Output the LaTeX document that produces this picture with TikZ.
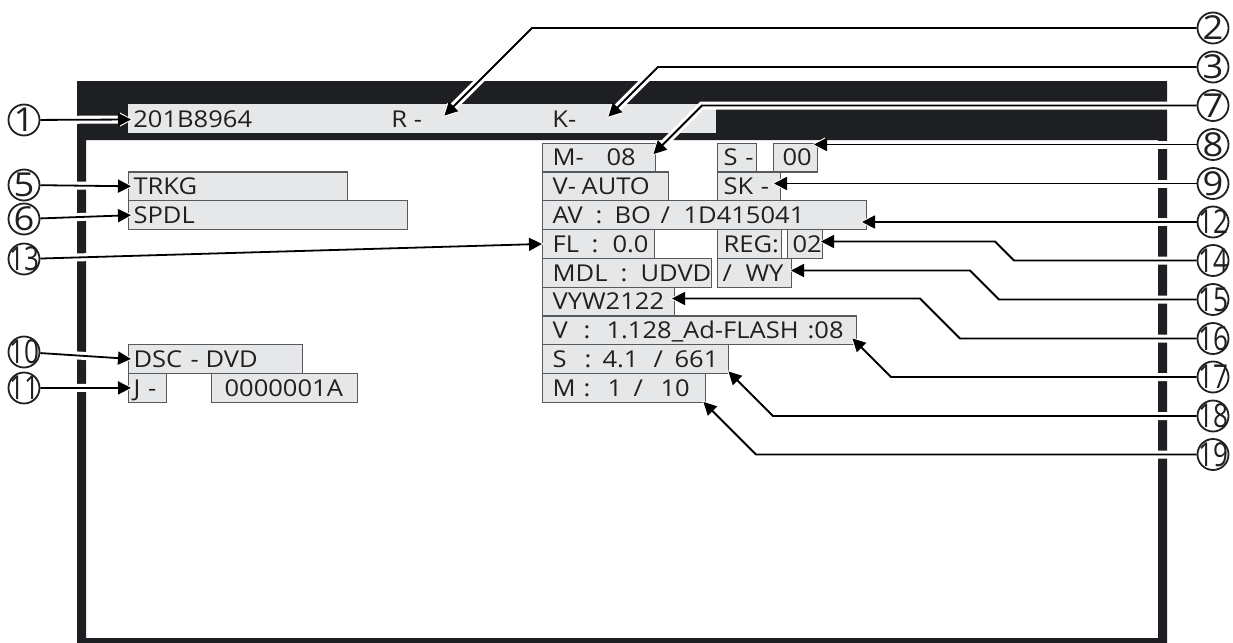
\documentclass[tikz,border=0pt]{standalone}
\usepackage{fontspec}
\setmainfont[FakeStretch=1.1]{Open Sans}
\usepackage{graphicx}
\usepackage{xcolor}
\definecolor{cFrame}{HTML}{1E1F22}
\definecolor{cFill}{HTML}{E6E7E8}
\definecolor{cEdge}{HTML}{58595B}
\definecolor{cInk}{HTML}{231F20}
\usetikzlibrary{arrows.meta,calc}
\pgfdeclarelayer{back}
\pgfdeclarelayer{front}
\pgfsetlayers{back,main,front}
\newlength{\pxu}\setlength{\pxu}{0.5pt}
\newcommand{\tabpx}[2]{\makebox[#1\pxu][l]{#2}}
\newcommand{\calloutnum}[1]{\ifnum#1>9 \scalebox{0.72}[1]{#1}\else#1\fi}
\tikzset{
  field-box/.style={draw=cEdge,line width=0.6pt,fill=cFill,anchor=north west,
    minimum height=14.4pt,inner xsep=2.5pt,inner ysep=0pt,align=left,
    text height=8.3pt,text depth=0pt},
  head-bar/.style={fill=cFill,anchor=north west,inner sep=0pt},
  head-text/.style={anchor=west,inner sep=0pt,text height=8.3pt,text depth=0pt},
  callout/.style={circle,draw=cInk,line width=0.9pt,fill=white,minimum size=15.5pt,
    inner sep=0pt,font=\fontsize{16.5}{17}\selectfont},
  leader/.style={draw=black,line width=0.9pt,-{Triangle[length=6.5pt,width=6.5pt]},
    shorten >=1pt,
    preaction={draw=white,line width=4pt,-{Triangle[length=6.5pt,width=6.5pt]},
      shorten >=0pt}},
}
\begin{document}
\begin{tikzpicture}[x=0.5pt,y=-0.5pt,font=\fontsize{11.6}{13}\selectfont,text=cInk]
  \useasboundingbox (0,0) rectangle (1233,643);
  \begin{pgfonlayer}{back}
    % screen frame and header
    \fill[cFrame,even odd rule] (77,81) rectangle (1167,643) (86,140) rectangle (1158,638);
    \node[head-bar,minimum width=294pt,minimum height=14.5pt] (hdr) at (128,104) {};
    \node[head-text] (hID) at (133,119.5) {201B8964};
    \node[head-text] (hR)  at (391,119.5) {R -};
    \node[head-text] (hK)  at (552,119.5) {K-};
    % left column
    \node[field-box,text width=104.5pt] (fTRKG) at (128,171.3) {TRKG};
    \node[field-box,text width=134.5pt] (fSPDL) at (128,200.1) {SPDL};
    \node[field-box,text width=82pt]    (fDSC)  at (128,344.1) {\tabpx{57}{DSC}\tabpx{15}{-}DVD};
    \node[field-box,text width=14pt]    (fJ)    at (128,372.9) {\mbox{J -}};
    \node[field-box,text width=68pt]    (fJid)  at (211,372.9) {\hspace*{8\pxu}0000001A};
    % middle column
    \node[field-box,text width=51.5pt] (fM)   at (542,142.5) {\hspace*{5\pxu}\tabpx{54}{M-}08};
    \node[field-box,text width=14.5pt] (fSd)  at (717,142.5) {\hspace*{1\pxu}\mbox{S -}};
    \node[field-box,text width=17pt]   (f00)  at (773,142.5) {\hspace*{4\pxu}00};
    \node[field-box,text width=58pt]   (fV)   at (542,171.3) {\hspace*{5\pxu}\tabpx{29}{V-}AUTO};
    \node[field-box,text width=26.5pt] (fSK)  at (717,171.3) {\hspace*{1\pxu}\mbox{SK -}};
    \node[field-box,text width=157pt]  (fAV)  at (542,200.1)
      {\hspace*{5\pxu}\tabpx{43}{AV}\tabpx{19}{:}\tabpx{46}{BO}\tabpx{23}{/}1D415041};
    \node[field-box,text width=51pt]   (fFL)  at (542,228.9) {\hspace*{5\pxu}\tabpx{39}{FL}\tabpx{21}{:}0.0};
    \node[field-box,text width=27pt]   (fREG) at (717,228.9) {\hspace*{1\pxu}REG:};
    \node[field-box,text width=12.5pt] (f02)  at (787,228.9) {02};
    \node[field-box,text width=79.5pt] (fMDL) at (542,257.7) {\hspace*{5\pxu}\tabpx{68}{MDL}\tabpx{20}{:}UDVD};
    \node[field-box,text width=32pt]   (fWY)  at (717,257.7) {\tabpx{23}{/}WY};
    \node[field-box,text width=61pt]   (fVYW) at (542,286.5) {\hspace*{5\pxu}VYW2122};
    \node[field-box,text width=152pt]  (fVer) at (542,315.3)
      {\hspace*{5\pxu}\tabpx{31}{V}\tabpx{23}{:}\tabpx{201}{1.128\_Ad-FLASH}:08};
    \node[field-box,text width=88pt]   (fSv)  at (542,344.1)
      {\hspace*{5\pxu}\tabpx{32}{S}\tabpx{18}{:}\tabpx{51}{4.1}\tabpx{21}{/}661};
    \node[field-box,text width=76.5pt] (fMv)  at (542,372.9)
      {\hspace*{5\pxu}\tabpx{31}{M}\tabpx{24}{:}\tabpx{26}{1}\tabpx{27}{/}10};
  \end{pgfonlayer}
  % callouts
  \begin{pgfonlayer}{front}
    \foreach \num/\yy in {1/120,5/185,6/219,13/259,10/352,11/388}
      \node[callout] (n\num) at (24,\yy) {\makebox[0pt]{\calloutnum{\num}}};
    \foreach \num/\yy in {2/28,3/67,7/105.5,8/144.5,9/183.5,12/222,14/260.5,
        15/299.5,16/338.5,17/377,18/416,19/454.5}
      \node[callout] (n\num) at (1213,\yy) {\makebox[0pt]{\calloutnum{\num}}};
  \end{pgfonlayer}
  % arrow targets
  \coordinate (t2)  at (443,117);
  \coordinate (t3)  at (607,118);
  \coordinate (t7)  at (652,155.5);
  \coordinate (t8)  at (812,144.5);
  \coordinate (t9)  at (772,183.5);
  \coordinate (t12) at (860,222);
  \coordinate (t14) at (819,241.5);
  \coordinate (t15) at (789,270.5);
  \coordinate (t16) at (670,298.5);
  \coordinate (t17) at (851,337);
  \coordinate (t18) at (727,370);
  \coordinate (t19) at (702,400.5);
  % leaders
  \draw[leader] (n1)  -- (hID.west);
  \draw[leader] (n5)  -- ([xshift=2.5pt]fTRKG.west);
  \draw[leader] (n6)  -- ([xshift=2.5pt]fSPDL.west);
  \draw[leader] (n13) -- ([xshift=1pt]fFL.west);
  \draw[leader] (n10) -- ([xshift=2.5pt]fDSC.west);
  \draw[leader] (n11) -- ([xshift=2.5pt]fJ.west);
  \draw[leader] (n2.west)  -- (532,28) -- (t2);
  \draw[leader] (n3.west)  -- (658,67) -- (t3);
  \draw[leader] (n7.west)  -- (702,105.5) -- (t7);
  \draw[leader] (n8.west)  -- (t8);
  \draw[leader] (n9.west)  -- (t9);
  \draw[leader] (n12.west) -- (t12);
  \draw[leader] (n14.west) -- (1014,260.5) -- (995,241.5) -- (t14);
  \draw[leader] (n15.west) -- (999,299.5) -- (970,270.5) -- (t15);
  \draw[leader] (n16.west) -- (960,338.5) -- (920,298.5) -- (t16);
  \draw[leader] (n17.west) -- (891,377) -- (t17);
  \draw[leader] (n18.west) -- (773,416) -- (t18);
  \draw[leader] (n19.west) -- (756,454.5) -- (t19);
\end{tikzpicture}
\end{document}
